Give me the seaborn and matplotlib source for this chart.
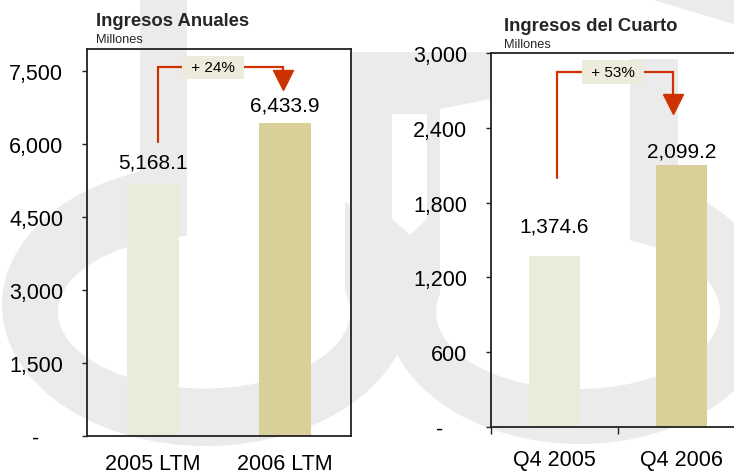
import matplotlib
matplotlib.use("Agg")
import matplotlib.pyplot as plt
import seaborn as sns
import pandas as pd
from matplotlib.patches import Ellipse, Polygon, Rectangle
import matplotlib.transforms as mtransforms

# ---------------- data ----------------
annual_categories = ["2005 LTM", "2006 LTM"]
annual_values = [5168.1, 6433.9]
annual_growth = "+ 24%"
annual_ticks = [0, 1500, 3000, 4500, 6000, 7500]

quarter_categories = ["Q4 2005", "Q4 2006"]
quarter_values = [1374.6, 2099.2]
quarter_growth = "+ 53%"
quarter_ticks = [0, 600, 1200, 1800, 2400, 3000]

titles = ["Ingresos Anuales", "Ingresos del Cuarto"]
subtitle = "Millones"

# ---------------- style ----------------
sns.set_theme(style="white")
plt.rcParams["font.family"] = ["Liberation Sans", "DejaVu Sans"]

W, H = 734, 477
BAR_COLORS = ["#ebebdc", "#d9cf99"]
RED = "#cc3300"
BOX = "#ecebdc"
WM = "#ebebeb"
SPINE = "#222222"
PX = 72 / 100.0  # points per pixel

fig = plt.figure(figsize=(W / 100, H / 100), dpi=100)
fig.patch.set_facecolor("white")

# ---------------- watermark (background logo) ----------------
bg = fig.add_axes([0, 0, 1, 1], zorder=0)
bg.set_xlim(0, W)
bg.set_ylim(H, 0)
bg.axis("off")


def wm(patch):
    patch.set_linewidth(0)
    bg.add_patch(patch)


wm(Ellipse((206, 306), 408, 282, color=WM))
wm(Ellipse((580, 308), 390, 274, color=WM))
wm(Polygon([(350, 53), (490, 53), (490, 100), (440, 110), (440, 260), (350, 300)], closed=True, color=WM))
wm(Ellipse((204, 313), 292, 153, color="white"))
wm(Ellipse((578, 313), 284, 154, color="white"))
wm(Rectangle((187, 150), 158, 163, color="white"))
wm(Rectangle((440, 110), 190, 203, color="white"))
wm(Rectangle((140, 0), 47, 205, color=WM))
wm(Rectangle((630, 60), 48, 150, color=WM))
wm(Polygon([(392, 115), (427, 115), (427, 220), (410, 236), (392, 220)], closed=True, color="white"))
wm(Polygon([(650, 0), (734, 0), (734, 25)], closed=True, color=WM))


def fmt(v):
    return "-    " if v == 0 else f"{v:,.0f}"


def draw_panel(rect, cats, vals, ticks, ylim, growth, geo, label_offsets, title_xy):
    ax = fig.add_axes(rect, zorder=2)
    ax.set_facecolor("none")
    df = pd.DataFrame({"cat": cats, "val": vals})
    sns.barplot(data=df, x="cat", y="val", hue="cat", palette=BAR_COLORS,
                width=0.4, legend=False, ax=ax, saturation=1, linewidth=0, edgecolor="none")
    ax.set_xlim(-0.5, 1.5)
    ax.set_ylim(*ylim)
    ax.set_xlabel("")
    ax.set_ylabel("")
    ax.set_yticks(ticks)
    ax.set_yticklabels([fmt(t) for t in ticks])
    ax.tick_params(axis="y", direction="out", length=5 * PX, width=1,
                   color=SPINE, pad=19 * PX, labelsize=15.5, labelcolor="black", left=True)
    for s in ax.spines.values():
        s.set_color(SPINE)
        s.set_linewidth(1.3)

    # value labels
    for i, (v, off) in enumerate(zip(vals, label_offsets)):
        ax.annotate(f"{v:,.1f}", xy=(i, v), xytext=(0, off * PX), textcoords="offset points",
                    ha="center", va="baseline", fontsize=15, color="black")

    # growth connector (x in data, y in axes fraction)
    tr = mtransforms.blended_transform_factory(ax.transData, ax.transAxes)
    x0, x1, y_bot, y_top, y_head = geo["x0"], geo["x1"], geo["y_bot"], geo["y_top"], geo["y_head"]
    ax.plot([x0, x0, x1, x1], [y_bot, y_top, y_top, y_head], color=RED, lw=1.6,
            transform=tr, solid_joinstyle="miter", clip_on=False, zorder=5)
    ax.plot([x1], [geo["y_mark"]], marker="v", ms=14.5, color=RED, mec=RED,
            transform=tr, clip_on=False, zorder=6)
    ax.text(geo["x_box"], y_top, f" {growth} ", transform=tr, ha="center", va="center",
            fontsize=11, color="black", zorder=7,
            bbox=dict(boxstyle="square,pad=0.3", fc=BOX, ec="none"))

    # titles
    tx, ty = title_xy
    fig.text(tx / W, 1 - ty / H, titles[geo["idx"]], fontsize=13.3, fontweight="bold",
             ha="left", va="baseline")
    fig.text(tx / W, 1 - (ty + 17) / H, subtitle, fontsize=9.2, ha="left", va="baseline")
    return ax


# ---------------- left panel ----------------
axL = draw_panel([87 / W, 1 - 437 / H, 264 / W, 387 / H],
                 annual_categories, annual_values, annual_ticks, (0, 7950), annual_growth,
                 dict(idx=0, x0=0.04, x1=0.985, y_bot=0.760, y_top=0.953, y_head=0.946,
                      y_mark=0.921, x_box=0.455),
                 [17, 12], (96, 26))
axL.tick_params(axis="x", length=0, pad=12.5, labelsize=15.5, labelcolor="black")

# ---------------- right panel ----------------
axR = draw_panel([491 / W, 1 - 428 / H, 254 / W, 374 / H],
                 quarter_categories, quarter_values, quarter_ticks, (0, 3000), quarter_growth,
                 dict(idx=1, x0=0.02, x1=0.93, y_bot=0.666, y_top=0.949, y_head=0.890,
                      y_mark=0.864, x_box=0.46),
                 [24, 9], (504, 31))
axR.spines["right"].set_visible(False)
axR.set_xticks([-0.5, 0.5, 1.5])
axR.set_xticklabels(["", "", ""])
axR.set_xticks([0, 1], minor=True)
axR.set_xticklabels(quarter_categories, minor=True)
axR.tick_params(axis="x", which="major", direction="out", length=7 * PX, width=1,
                color=SPINE, bottom=True)
axR.tick_params(axis="x", which="minor", length=0, pad=22 * PX, labelsize=15.5,
                labelcolor="black")

fig.savefig("out.png", dpi=100, facecolor="white")
